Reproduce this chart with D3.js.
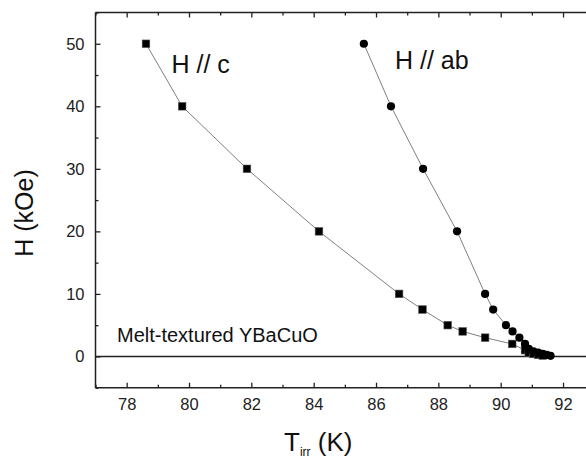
<!DOCTYPE html>
<html>
<head>
<meta charset="utf-8">
<script src="https://cdn.jsdelivr.net/npm/d3@7"></script>
<style>
  html, body { margin: 0; padding: 0; background: #fff; }
  svg { display: block; font-family: "Liberation Sans", Arial, sans-serif; }
</style>
</head>
<body>
<svg id="chart" width="586" height="459"></svg>
<script>
// Irreversibility line of melt-textured YBaCuO, two field orientations
const cT  = [78.62, 79.78, 81.86, 84.17, 86.74, 87.49, 88.30, 88.78, 89.50, 90.37, 90.78, 90.90, 91.05, 91.20, 91.35];
const cH  = [50, 40, 30, 20, 10, 7.5, 5, 4, 3, 2, 1, 0.6, 0.4, 0.25, 0.15];
const abT = [85.61, 86.48, 87.51, 88.60, 89.50, 89.76, 90.17, 90.38, 90.60, 90.78, 90.90, 91.05, 91.20, 91.35, 91.48, 91.60];
const abH = [50, 40, 30, 20, 10, 7.5, 5, 4, 3, 2, 1.2, 0.8, 0.6, 0.4, 0.25, 0.1];

const xTicks = [78, 80, 82, 84, 86, 88, 90, 92];
const yTicks = [0, 10, 20, 30, 40, 50];

const svg = d3.select("#chart");
const plotLeft = 95.5, plotTop = 12.5, plotBottom = 387.7, plotRight = 594.2;

const x = d3.scaleLinear().domain([77, 93]).range([plotLeft, plotRight]);
const y = d3.scaleLinear().domain([-5, 55]).range([plotBottom, plotTop]);

const axisColor = "#222";

// frame
svg.append("line").attr("x1", plotLeft).attr("x2", plotLeft).attr("y1", plotTop).attr("y2", plotBottom)
  .attr("stroke", axisColor).attr("stroke-width", 1.5);
svg.append("line").attr("x1", plotLeft).attr("x2", plotRight).attr("y1", plotTop).attr("y2", plotTop)
  .attr("stroke", axisColor).attr("stroke-width", 1.5);
svg.append("line").attr("x1", plotLeft).attr("x2", plotRight).attr("y1", plotBottom).attr("y2", plotBottom)
  .attr("stroke", axisColor).attr("stroke-width", 1.5);

// axes with inward ticks
const xMinor = d3.range(77, 94, 1).filter(v => !xTicks.includes(v));
const yMinor = d3.range(-5, 56, 5).filter(v => !yTicks.includes(v));

function styleAxis(g) {
  g.select(".domain").remove();
  g.selectAll(".tick line").attr("stroke", axisColor).attr("stroke-width", 1.3);
  g.selectAll("text").attr("fill", "#222").attr("font-size", 16.5)
    .attr("font-family", "'Liberation Sans', Arial, sans-serif");
}

svg.append("g").attr("transform", `translate(0,${plotBottom})`)
  .call(d3.axisBottom(x).tickValues(xTicks).tickFormat(d3.format("d")).tickSizeInner(-5).tickPadding(11))
  .call(styleAxis);
svg.append("g").attr("transform", `translate(0,${plotBottom})`)
  .call(d3.axisBottom(x).tickValues(xMinor).tickFormat("").tickSizeInner(-3))
  .call(styleAxis);
svg.append("g").attr("transform", `translate(0,${plotTop})`)
  .call(d3.axisTop(x).tickValues(xTicks).tickFormat("").tickSizeInner(-5))
  .call(styleAxis);
svg.append("g").attr("transform", `translate(0,${plotTop})`)
  .call(d3.axisTop(x).tickValues(xMinor).tickFormat("").tickSizeInner(-3))
  .call(styleAxis);
svg.append("g").attr("transform", `translate(${plotLeft},0)`)
  .call(d3.axisLeft(y).tickValues(yTicks).tickFormat(d3.format("d")).tickSizeInner(-5).tickPadding(11))
  .call(styleAxis);
svg.append("g").attr("transform", `translate(${plotLeft},0)`)
  .call(d3.axisLeft(y).tickValues(yMinor).tickFormat("").tickSizeInner(-3))
  .call(styleAxis);

// zero-field reference line
svg.append("line").attr("x1", plotLeft).attr("x2", plotRight).attr("y1", y(0)).attr("y2", y(0))
  .attr("stroke", axisColor).attr("stroke-width", 1.5);

// series
const cData = cT.map((t, i) => ({ t, h: cH[i] }));
const abData = abT.map((t, i) => ({ t, h: abH[i] }));
const line = d3.line().x(d => x(d.t)).y(d => y(d.h));

[cData, abData].forEach(data => {
  svg.append("path").datum(data).attr("d", line)
    .attr("fill", "none").attr("stroke", "#808080").attr("stroke-width", 1);
});

svg.append("g").selectAll("rect").data(cData).join("rect")
  .attr("x", d => x(d.t) - 3.8).attr("y", d => y(d.h) - 3.8)
  .attr("width", 7.6).attr("height", 7.6)
  .attr("fill", "#000").attr("stroke", "#555").attr("stroke-width", 0.6);

svg.append("g").selectAll("circle").data(abData).join("circle")
  .attr("cx", d => x(d.t)).attr("cy", d => y(d.h)).attr("r", 4.1)
  .attr("fill", "#000");

// annotations
svg.append("text").attr("x", 171.5).attr("y", 73).attr("font-size", 25).attr("fill", "#111")
  .text("H // c");
svg.append("text").attr("x", 395).attr("y", 69).attr("font-size", 25).attr("fill", "#111")
  .text("H // ab");
svg.append("text").attr("x", 117).attr("y", 341.5).attr("font-size", 20).attr("fill", "#111")
  .text("Melt-textured YBaCuO");

// axis titles
svg.append("text").attr("transform", "translate(33,213) rotate(-90)")
  .attr("text-anchor", "middle").attr("font-size", 25).attr("fill", "#111")
  .text("H (kOe)");

const xt = svg.append("text").attr("x", 284).attr("y", 451).attr("font-size", 26).attr("fill", "#111");
xt.append("tspan").text("T");
xt.append("tspan").attr("dy", 4.5).attr("font-size", 12).text("irr");
xt.append("tspan").attr("dy", -4.5).text(" (K)");
</script>
</body>
</html>
